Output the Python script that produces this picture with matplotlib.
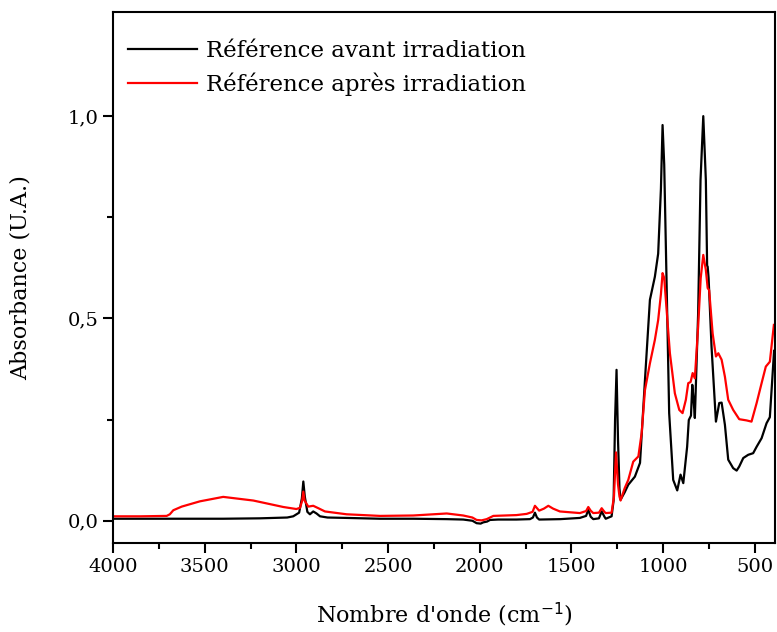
import matplotlib
matplotlib.use("Agg")
import matplotlib.pyplot as plt
from matplotlib.ticker import MultipleLocator, FixedLocator, FuncFormatter

# wavenumbers (cm-1) and absorbances
wn_avant = [4000, 3800, 3600, 3400, 3200, 3050, 3017, 2985, 2970, 2962, 2954, 2940, 2926, 2908,
            2890, 2871, 2830, 2726, 2544, 2363, 2180, 2090, 2040, 2017, 1995, 1981, 1960, 1944,
            1900, 1800, 1726, 1710, 1699, 1688, 1676, 1560, 1454, 1420, 1408, 1395, 1381, 1350,
            1335, 1320, 1313, 1281, 1270, 1262, 1254, 1246, 1238, 1232, 1210, 1190, 1154, 1126,
            1099, 1072, 1045, 1027, 1012, 1003, 994, 985, 967, 945, 923, 905, 890, 869, 860, 848,
            841, 834, 827, 809, 796, 781, 767, 760, 757, 752, 736, 712, 694, 681, 663, 645, 618,
            599, 585, 563, 536, 509, 490, 463, 436, 418, 405, 395]
ab_avant = [0.005, 0.005, 0.005, 0.005, 0.006, 0.008, 0.011, 0.02, 0.055, 0.097, 0.06, 0.022,
            0.016, 0.023, 0.018, 0.011, 0.008, 0.007, 0.005, 0.005, 0.004, 0.003, 0.0, -0.006,
            -0.007, -0.004, -0.002, 0.002, 0.003, 0.003, 0.004, 0.008, 0.02, 0.008, 0.003, 0.004,
            0.007, 0.012, 0.027, 0.01, 0.004, 0.006, 0.023, 0.01, 0.005, 0.011, 0.05, 0.25, 0.373,
            0.2, 0.08, 0.052, 0.07, 0.089, 0.109, 0.143, 0.348, 0.546, 0.603, 0.66, 0.82, 0.978,
            0.88, 0.677, 0.266, 0.101, 0.075, 0.114, 0.093, 0.183, 0.249, 0.26, 0.336, 0.3, 0.254,
            0.513, 0.842, 1.0, 0.842, 0.63, 0.628, 0.6, 0.43, 0.245, 0.291, 0.292, 0.237, 0.151,
            0.13, 0.124, 0.134, 0.155, 0.163, 0.167, 0.183, 0.204, 0.241, 0.256, 0.348, 0.42]

wn_apres = [4000, 3850, 3707, 3690, 3671, 3625, 3526, 3399, 3235, 3071, 3000, 2980, 2968, 2962,
            2955, 2935, 2908, 2880, 2844, 2726, 2544, 2363, 2180, 2090, 2040, 2017, 1990, 1962,
            1926, 1800, 1744, 1712, 1699, 1676, 1650, 1626, 1600, 1563, 1454, 1420, 1408, 1395,
            1381, 1350, 1335, 1320, 1313, 1281, 1268, 1257, 1246, 1238, 1232, 1210, 1190, 1163,
            1135, 1117, 1099, 1072, 1045, 1027, 1012, 1003, 994, 985, 963, 936, 912, 894, 876,
            863, 850, 839, 827, 809, 795, 781, 767, 757, 749, 730, 712, 699, 681, 663, 645, 618,
            585, 545, 518, 490, 463, 440, 418, 396]
ab_apres = [0.011, 0.011, 0.012, 0.016, 0.026, 0.035, 0.048, 0.059, 0.05, 0.034, 0.029, 0.032,
            0.05, 0.072, 0.05, 0.035, 0.037, 0.031, 0.023, 0.016, 0.012, 0.013, 0.018, 0.013,
            0.008, 0.002, 0.001, 0.004, 0.012, 0.014, 0.017, 0.022, 0.037, 0.025, 0.03, 0.037,
            0.03, 0.023, 0.019, 0.024, 0.034, 0.025, 0.019, 0.02, 0.031, 0.022, 0.019, 0.02,
            0.06, 0.169, 0.09, 0.06, 0.05, 0.08, 0.101, 0.146, 0.159, 0.217, 0.323, 0.389, 0.447,
            0.496, 0.56, 0.612, 0.6, 0.546, 0.414, 0.315, 0.274, 0.266, 0.299, 0.34, 0.343, 0.365,
            0.352, 0.48, 0.6, 0.657, 0.62, 0.575, 0.57, 0.463, 0.406, 0.414, 0.398, 0.356, 0.299,
            0.274, 0.251, 0.248, 0.245, 0.291, 0.34, 0.381, 0.393, 0.484]

labels = ["Référence avant irradiation", "Référence après irradiation"]

plt.rcParams['font.family'] = ['DejaVu Serif']
fig = plt.figure(figsize=(7.77, 6.32), dpi=100)
ax = fig.add_axes([0.1454, 0.1408, 0.852, 0.840])

ax.plot(wn_avant, ab_avant, color="black", lw=1.6, label=labels[0])
ax.plot(wn_apres, ab_apres, color="red", lw=1.6, label=labels[1])

ax.set_xlim(4000, 390)
ax.set_ylim(-0.055, 1.257)
ax.xaxis.set_major_locator(MultipleLocator(500))
ax.xaxis.set_minor_locator(MultipleLocator(250))
ax.yaxis.set_major_locator(MultipleLocator(0.5))
ax.yaxis.set_minor_locator(FixedLocator([0.25, 0.75]))
ax.yaxis.set_major_formatter(FuncFormatter(lambda v, p: f"{v:.1f}".replace(".", ",")))
ax.tick_params(which="major", direction="out", length=7, width=1.5, labelsize=14)
ax.tick_params(which="minor", direction="out", length=4, width=1.5)
for s in ax.spines.values():
    s.set_linewidth(1.5)

ax.set_xlabel("Nombre d'onde (cm$^{-1}$)", fontsize=16, labelpad=18)
ax.set_ylabel("Absorbance (U.A.)", fontsize=16, labelpad=26)

ax.legend(loc="upper left", bbox_to_anchor=(0.0, 0.975), frameon=False, fontsize=16.5,
          handlelength=3.0, handletextpad=0.4, labelspacing=0.45, borderaxespad=0.25)

fig.savefig("out.png", dpi=100)
